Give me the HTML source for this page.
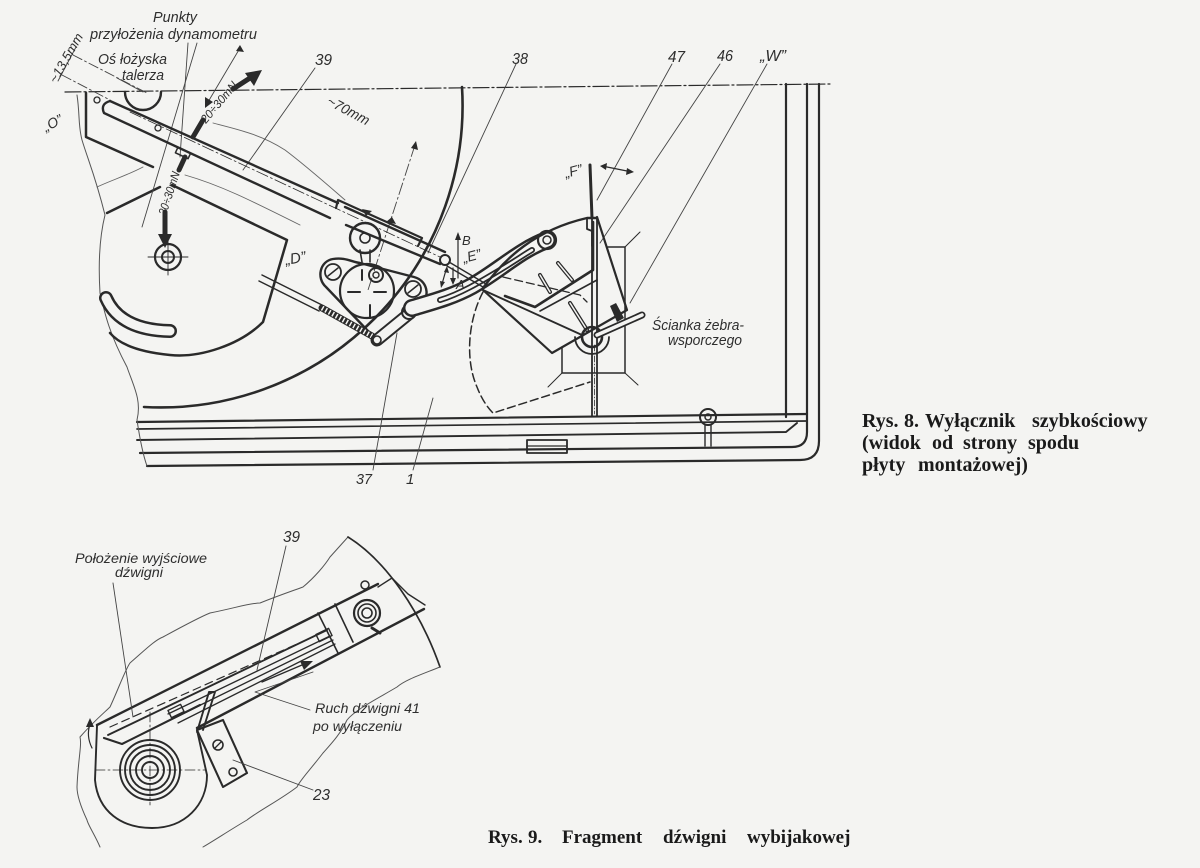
<!DOCTYPE html>
<html><head><meta charset="utf-8">
<style>
html,body{margin:0;padding:0;background:#f4f4f2;}
svg{display:block}
text{font-family:"Liberation Sans",sans-serif;font-style:italic;fill:#2e2e2e;stroke:none}
.cap{font-family:"Liberation Serif",serif;font-weight:bold;font-style:normal;fill:#1a1a1a;font-size:19px}
.c8{font-size:20px}
</style></head><body>
<svg width="1200" height="868" viewBox="0 0 1200 868" xmlns="http://www.w3.org/2000/svg">
<rect x="0" y="0" width="1200" height="868" fill="#f4f4f2"/>

<!-- ================= TOP FIGURE ================= -->
<g fill="none" stroke="#2a2a2a" stroke-width="2.2" stroke-linejoin="round" stroke-linecap="round">

<path d="M65 92 L830 84" stroke-width="1.2" stroke-dasharray="16 3 2 3"/>

<path d="M786 84 V417"/>
<path d="M807 84 V432 Q807 447 792 447 L140 453"/>
<path d="M819 84 V441 Q819 460 800 460 L147 466"/>
<path d="M137 422 L807 414"/>
<path d="M137 429 L807 421" stroke-width="1.7"/>
<path d="M137 440 L786 432 L797 423" stroke-width="1.9"/>
<rect x="527" y="440" width="40" height="13" stroke-width="1.8"/>
<path d="M527 446 H567" stroke-width="1.2"/>
<circle cx="708" cy="417" r="8" stroke-width="2"/>
<circle cx="708" cy="417" r="3" stroke-width="1.5"/>
<path d="M705 425 V446 M711 425 V446" stroke-width="1.4"/>

<path d="M592 218 V416 M597 218 V416" stroke-width="1.8"/>
<path d="M594.5 345 V414" stroke-width="0.8" stroke-dasharray="6 2 1 2"/>

<path d="M462 87 A302 302 0 0 1 144 407" stroke-width="2.6"/>

<path d="M77 95 C80 115 78 125 82 140 C88 160 95 175 105 215 C100 235 98 260 100 293 C105 315 110 335 127 367 C133 385 142 400 137 420 C140 440 143 455 147 466" stroke-width="1" stroke="#555"/>
<path d="M213 123 C240 130 262 135 285 150 C305 165 322 180 345 200" stroke-width="0.9" stroke="#666"/>
<path d="M143 167 C128 175 112 180 97 187" stroke-width="0.9" stroke="#666"/>
<path d="M185 175 C220 185 250 200 300 225" stroke-width="0.9" stroke="#666"/>

<path d="M125 92 A18 18 0 0 0 161 92" stroke-width="2.4"/>
<circle cx="97" cy="100" r="3" stroke-width="1.3"/>

<path d="M86 93 V137 L153 167" stroke-width="2.5"/>
<path d="M107 213 L160 187" stroke-width="2.5"/>
<path d="M172 185 L287 240 L263 322 C240 345 200 358 170 355 C140 352 120 345 110 333" stroke-width="2.5"/>
<path d="M106 298 Q120 330 170 331" stroke-width="14"/>
<path d="M106 298 Q120 330 170 331" stroke-width="9" stroke="#f4f4f2"/>

<circle cx="168" cy="257" r="13" stroke-width="2.2"/>
<circle cx="168" cy="257" r="6" stroke-width="2"/>
<path d="M148 257 H188 M168 240 V275" stroke-width="0.9"/>

<path d="M165 212 V236" stroke-width="5"/>
<polygon points="158,234 172,234 165,248" fill="#2a2a2a" stroke="none"/>
<path d="M179 170 L185 157" stroke-width="5"/>
<path d="M193 137 L203 120" stroke-width="5"/>
<path d="M233 89 L250 78" stroke-width="5"/>
<polygon points="262,70 245,73 254,86" fill="#2a2a2a" stroke="none"/>

<g stroke-width="0.9" stroke="#444">
<path d="M188 43 L180 157"/>
<path d="M197 43 L142 227"/>
<path d="M240 48 L208 102"/>
<path d="M117 78 L143 92"/>
<path d="M73 55 L147 93" stroke-dasharray="10 3 2 3"/>
<path d="M62 75 L110 100" stroke-dasharray="10 3 2 3"/>
<path d="M76 47 L58 81"/>
<path d="M315 68 L243 170"/>
<path d="M516 64 L428 253"/>
<path d="M672 64 L597 200"/>
<path d="M720 64 L600 243"/>
<path d="M767 64 L630 303"/>
<path d="M397 333 L373 470"/>
<path d="M433 398 L413 470"/>
<path d="M415 145 L368 290" stroke-dasharray="12 3 2 3"/>
</g>
<polygon points="205,108 205,97 213,102" fill="#2a2a2a" stroke="none"/>
<polygon points="240,45 244,52 236,51" fill="#2a2a2a" stroke="none"/>
<polygon points="416,141 418,150 411,148" fill="#2a2a2a" stroke="none"/>

<path d="M110 101 L338 203 M345 207 L445 252" stroke-width="2.4"/>
<path d="M110 101 Q100 104 104 113 L330 218 M346 225 L440 264" stroke-width="2.4"/>
<path d="M130 112 L440 257" stroke-width="0.8" stroke-dasharray="12 3 2 3"/>
<rect x="-7" y="-3" width="14" height="6" transform="translate(183,153) rotate(25)" stroke-width="1.5"/>
<circle cx="158" cy="128" r="3" stroke-width="1.3"/>

<path d="M336 208 L338 200 L422 238 L418 246" stroke-width="2.2"/>
<polygon points="362,209 372,211 366,216" fill="#2a2a2a" stroke="none"/>
<polygon points="396,224 386,222 392,217" fill="#2a2a2a" stroke="none"/>

<circle cx="365" cy="238" r="15" stroke-width="2.4"/>
<circle cx="365" cy="238" r="5" stroke-width="1.6"/>
<path d="M360 250 L362 262 M370 250 L370 262" stroke-width="1.6"/>

<path d="M333 259 C345 257 352 262 360 263 L414 277 C430 281 430 302 418 304 L392 330 C385 338 375 337 368 331 L326 287 C316 278 320 261 333 259 Z" stroke-width="2.4"/>
<circle cx="367" cy="291" r="27" stroke-width="2.2"/>
<circle cx="333" cy="272" r="8" stroke-width="1.8"/>
<path d="M328 276 L338 268" stroke-width="1.5"/>
<circle cx="413" cy="289" r="8" stroke-width="1.8"/>
<path d="M408 293 L418 285" stroke-width="1.5"/>
<circle cx="376" cy="275" r="7" stroke-width="2"/>
<circle cx="376" cy="275" r="3" stroke-width="1.4"/>
<path d="M348 292 H360 M374 292 H386 M370 305 V318 M362 270 V280" stroke-width="2"/>

<path d="M262 275 L322 305 M259 281 L319 311" stroke-width="1.5"/>
<path d="M322 308 L372 336" stroke-width="7"/>
<path d="M322 308 L372 336" stroke-width="5" stroke="#f4f4f2" stroke-dasharray="1.5 2.5" stroke-linecap="butt"/>
<path d="M377 340 L410 313" stroke-width="13"/>
<path d="M377 340 L410 313" stroke-width="9" stroke="#f4f4f2"/>
<circle cx="377" cy="340" r="4" stroke-width="1.6"/>
<circle cx="409" cy="312" r="7" stroke-width="2"/>
<circle cx="409" cy="312" r="3" stroke-width="1.5"/>

<path d="M412 308 C432 302 452 297 472 286 C500 270 520 250 547 240" stroke-width="18"/>
<path d="M412 308 C432 302 452 297 472 286 C500 270 520 250 547 240" stroke-width="13" stroke="#f4f4f2"/>
<path d="M440 300 C460 294 480 282 500 270 C515 261 525 254 532 250" stroke-width="6"/>
<path d="M440 300 C460 294 480 282 500 270 C515 261 525 254 532 250" stroke-width="2.5" stroke="#f4f4f2"/>
<circle cx="547" cy="240" r="9" stroke-width="2.2"/>
<circle cx="547" cy="240" r="4" stroke-width="1.5"/>
<circle cx="445" cy="260" r="5" stroke-width="2"/>
<path d="M449 262 L486 284 M447 266 L483 287" stroke-width="1.4"/>

<path d="M483 288 C505 258 535 230 587 218 L597 218" stroke-width="2.4"/>
<path d="M483 290 L552 353 L627 310 L597 217" stroke-width="2.2"/>
<path d="M483 290 L582 335" stroke-width="1.9"/>
<path d="M587 218 V229 L592 231 V246" stroke-width="1.8"/>
<path d="M593 222 V270 L535 307 L505 296" stroke-width="2.6"/>
<path d="M540 311 L597 280" stroke-width="1.6"/>
<path d="M540 275 L550 292 M558 263 L572 280 M570 303 L587 330" stroke-width="4"/>
<path d="M540 275 L550 292 M558 263 L572 280 M570 303 L587 330" stroke-width="1.5" stroke="#f4f4f2"/>
<circle cx="592" cy="337" r="10" stroke-width="2.6"/>
<path d="M575 337 A17 17 0 0 0 609 337" stroke-width="1.8"/>
<path d="M562 347 V373 H625 V247 H608" stroke-width="1.5"/>
<path d="M625 247 L640 232 M562 373 L548 387 M625 373 L638 385" stroke-width="1"/>
<path d="M483 292 C468 320 465 360 477 387 C482 400 488 408 493 413 L590 382" stroke-width="1.5" stroke-dasharray="8 4"/>
<path d="M503 277 L580 295 L587 302" stroke-width="1.3" stroke-dasharray="8 4"/>
<path d="M590 165 L592 218" stroke-width="3"/>
<path d="M602 166 L632 172" stroke-width="1.2"/>
<polygon points="600,166 607,163 606,170" fill="#2a2a2a" stroke="none"/>
<polygon points="634,172 627,168 626,175" fill="#2a2a2a" stroke="none"/>
<path d="M597 335 L642 315" stroke-width="7"/>
<path d="M597 335 L642 315" stroke-width="3.5" stroke="#f4f4f2"/>
<polygon points="610,306 616,303 624,318 617,322" fill="#2a2a2a" stroke="none"/>

<path d="M458 278 V238" stroke-width="1.2"/>
<polygon points="458,232 455,240 461,240" fill="#2a2a2a" stroke="none"/>
<path d="M453 268 V280" stroke-width="1.2"/>
<polygon points="453,285 450,278 456,278" fill="#2a2a2a" stroke="none"/>
<path d="M446 270 L442 284" stroke-width="1.2"/>
<polygon points="447,266 444,272 449,273" fill="#2a2a2a" stroke="none"/>
<polygon points="441,288 440,281 445,282" fill="#2a2a2a" stroke="none"/>
</g>

<g font-size="15">
<text x="153" y="22" textLength="44" lengthAdjust="spacingAndGlyphs">Punkty</text>
<text x="90" y="39" textLength="167" lengthAdjust="spacingAndGlyphs">przyłożenia dynamometru</text>
<text x="98" y="64" textLength="69" lengthAdjust="spacingAndGlyphs">Oś łożyska</text>
<text x="122" y="80" textLength="42" lengthAdjust="spacingAndGlyphs">talerza</text>
<text x="0" y="0" font-size="13" textLength="55" lengthAdjust="spacingAndGlyphs" transform="translate(56,84) rotate(-60)">~13,5mm</text>
<text x="0" y="0" font-size="14" transform="translate(46,132) rotate(-28)">„O”</text>
<text x="315" y="65" font-size="16" textLength="17" lengthAdjust="spacingAndGlyphs">39</text>
<text x="512" y="64" font-size="16" textLength="16" lengthAdjust="spacingAndGlyphs">38</text>
<text x="668" y="62" font-size="16" textLength="17" lengthAdjust="spacingAndGlyphs">47</text>
<text x="717" y="61" font-size="16" textLength="16" lengthAdjust="spacingAndGlyphs">46</text>
<text x="760" y="61" font-size="16" textLength="26" lengthAdjust="spacingAndGlyphs">„W”</text>
<text x="0" y="0" font-size="14" textLength="46" lengthAdjust="spacingAndGlyphs" transform="translate(326,104) rotate(28)">~70mm</text>
<text x="0" y="0" font-size="12" textLength="50" lengthAdjust="spacingAndGlyphs" transform="translate(206,124) rotate(-50)">20÷30mN</text>
<text x="0" y="0" font-size="12" textLength="45" lengthAdjust="spacingAndGlyphs" transform="translate(166,216) rotate(-72)">20÷30mN</text>
<text x="0" y="0" font-size="15" transform="translate(286,265) rotate(-10)">„D”</text>
<text x="0" y="0" font-size="14" transform="translate(464,263) rotate(-15)">„E”</text>
<text x="462" y="245" font-size="13">B</text>
<text x="456" y="289" font-size="13">A</text>
<text x="0" y="0" font-size="14" transform="translate(566,178) rotate(-15)">„F”</text>
<text x="652" y="330" textLength="92" lengthAdjust="spacingAndGlyphs">Ścianka żebra-</text>
<text x="668" y="345" textLength="74" lengthAdjust="spacingAndGlyphs">wsporczego</text>
<text x="356" y="484" textLength="16" lengthAdjust="spacingAndGlyphs">37</text>
<text x="406" y="484">1</text>
</g>

<!-- caption 8 -->
<text class="cap c8" x="862" y="427">Rys.</text>
<text class="cap c8" x="904" y="427">8.</text>
<text class="cap c8" x="925" y="427">Wyłącznik</text>
<text class="cap c8" x="1032" y="427">szybkościowy</text>
<text class="cap c8" x="862" y="449">(widok</text>
<text class="cap c8" x="932" y="449">od</text>
<text class="cap c8" x="963" y="449">strony</text>
<text class="cap c8" x="1028" y="449">spodu</text>
<text class="cap c8" x="862" y="471">płyty</text>
<text class="cap c8" x="918" y="471">montażowej)</text>

<!-- ================= BOTTOM FIGURE ================= -->
<g fill="none" stroke="#2a2a2a" stroke-width="2.2" stroke-linejoin="round" stroke-linecap="round">
<path d="M100 847 C95 835 88 825 87 820 C80 805 77 795 77 787 C78 760 82 745 80 737 C95 720 105 712 110 707 C118 690 125 670 130 663 C145 650 155 640 163 637 C185 625 200 617 210 613 C235 608 250 603 260 603 C280 595 295 590 303 587 C315 577 325 565 330 557 L348 537" stroke-width="1" stroke="#555"/>
<path d="M348 537 C385 560 420 610 440 667" stroke-width="1.7"/>
<path d="M440 667 C420 675 405 680 397 687 C375 700 355 710 347 720 C340 735 330 745 323 753 C310 770 300 780 297 787 C280 800 260 810 247 820 C230 830 215 840 203 847" stroke-width="1" stroke="#555"/>

<path d="M97 725 L378 584" stroke-width="2.4"/>
<path d="M197 728 L424 609" stroke-width="2.4"/>
<path d="M318 613 L338 653 M335 604 L353 642" stroke-width="1.6"/>
<path d="M108 735 L327 630" stroke-width="1.9"/>
<path d="M104 738 L122 744 L200 705" stroke-width="2.1"/>
<path d="M168 714 L330 636 M172 719 L333 640 M178 723 L335 644" stroke-width="1.3"/>
<rect x="-7" y="-4" width="14" height="8" transform="translate(324,635) rotate(-26)" stroke-width="1.4"/>
<rect x="-7" y="-4" width="14" height="8" transform="translate(176,711) rotate(-26)" stroke-width="1.4"/>
<path d="M110 727 L313 637" stroke-width="1.2" stroke-dasharray="8 5"/>
<path d="M262 682 L302 665" stroke-width="1.3"/>
<polygon points="313,661 300,661 304,670" fill="#2a2a2a" stroke="none"/>

<circle cx="367" cy="613" r="13" stroke-width="2.2"/>
<circle cx="367" cy="613" r="9" stroke-width="1.6"/>
<circle cx="367" cy="613" r="5" stroke-width="1.6"/>
<circle cx="365" cy="585" r="4" stroke-width="1.5"/>
<path d="M378 587 L392 578 L408 594 L425 605" stroke-width="1.4"/>
<path d="M372 628 L380 633" stroke-width="3"/>

<circle cx="150" cy="770" r="30" stroke-width="1.9"/>
<circle cx="150" cy="770" r="25" stroke-width="1.9"/>
<circle cx="150" cy="770" r="20" stroke-width="1.9"/>
<circle cx="150" cy="770" r="14" stroke-width="1.9"/>
<circle cx="150" cy="770" r="8" stroke-width="1.9"/>
<path d="M95 770 H205 M150 712 V805" stroke-width="0.8" stroke-dasharray="10 3 2 3"/>
<path d="M97 726 L95 780 C98 812 122 828 152 828 C185 828 207 805 207 775 L197 730" stroke-width="1.9"/>

<path d="M197 732 L209 692 L215 692 L203 730" stroke-width="1.9"/>
<path d="M197 730 L223 720 L247 773 L223 787 Z" stroke-width="2.1"/>
<circle cx="218" cy="745" r="5" stroke-width="1.6"/>
<path d="M215 748 L221 742" stroke-width="1.3"/>
<circle cx="233" cy="772" r="4" stroke-width="1.6"/>

<path d="M92 748 Q86 736 90 724" stroke-width="1.2"/>
<polygon points="90,718 86,727 94,727" fill="#2a2a2a" stroke="none"/>

<g stroke-width="0.9" stroke="#444">
<path d="M286 546 L257 670"/>
<path d="M113 583 L133 717"/>
<path d="M310 710 L255 692 L313 672"/>
<path d="M313 790 L233 760"/>
</g>
</g>

<g font-size="14">
<text x="283" y="542" font-size="16" textLength="17" lengthAdjust="spacingAndGlyphs">39</text>
<text x="75" y="563" textLength="132" lengthAdjust="spacingAndGlyphs">Położenie wyjściowe</text>
<text x="115" y="577" textLength="48" lengthAdjust="spacingAndGlyphs">dźwigni</text>
<text x="315" y="713" textLength="105" lengthAdjust="spacingAndGlyphs">Ruch dźwigni 41</text>
<text x="313" y="731" textLength="89" lengthAdjust="spacingAndGlyphs">po wyłączeniu</text>
<text x="313" y="800" font-size="16" textLength="17" lengthAdjust="spacingAndGlyphs">23</text>
</g>

<!-- caption 9 -->
<text class="cap" x="488" y="843">Rys.</text>
<text class="cap" x="528" y="843">9.</text>
<text class="cap" x="562" y="843">Fragment</text>
<text class="cap" x="663" y="843">dźwigni</text>
<text class="cap" x="747" y="843">wybijakowej</text>
</svg>
</body></html>
